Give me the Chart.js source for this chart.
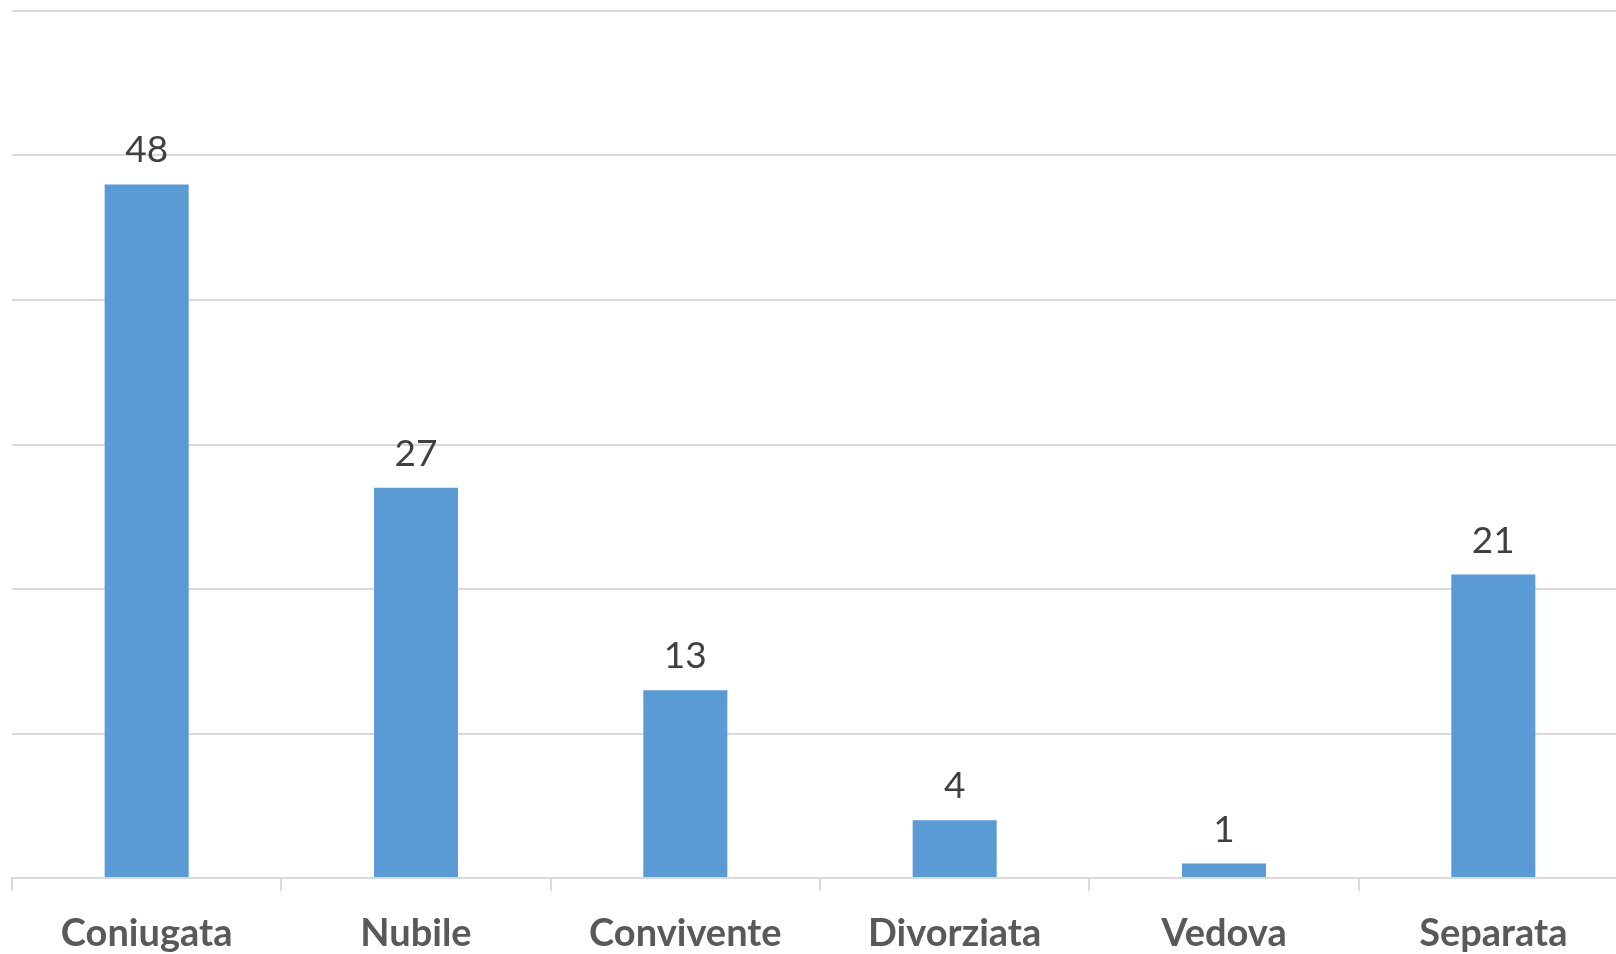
<!DOCTYPE html>
<html>
<head>
<meta charset="utf-8">
<script src="https://cdn.jsdelivr.net/npm/chart.js@4.4.1/dist/chart.umd.min.js"></script>
<style>
  html, body { margin: 0; padding: 0; background: #ffffff; overflow: hidden; width: 1616px; height: 954px; }
  #wrap { position: absolute; left: 0; top: 0; width: 1640px; height: 954px; }
</style>
</head>
<body>
<div id="wrap"><canvas id="c"></canvas></div>
<script>
const categories = ["Coniugata", "Nubile", "Convivente", "Divorziata", "Vedova", "Separata"];
const values = [48, 27, 13, 4, 1, 21];
const yMin = 0;
const yMax = 60;
const yStep = 10;

const valueLabels = {
  id: 'valueLabels',
  afterDatasetsDraw(chart) {
    const ctx = chart.ctx;
    const meta = chart.getDatasetMeta(0);
    ctx.save();
    ctx.font = '400 37px Lato, "Open Sans", sans-serif';
    ctx.fillStyle = '#404040';
    ctx.textAlign = 'center';
    ctx.textBaseline = 'alphabetic';
    meta.data.forEach((bar, i) => {
      ctx.fillText(String(chart.data.datasets[0].data[i]), bar.x, bar.y - 22);
    });
    ctx.restore();
  }
};

new Chart(document.getElementById('c'), {
  type: 'bar',
  data: {
    labels: categories,
    datasets: [{
      data: values,
      backgroundColor: '#5B9BD5',
      borderWidth: 0,
      categoryPercentage: 1,
      barPercentage: 0.312
    }]
  },
  options: {
    responsive: true,
    maintainAspectRatio: false,
    animation: false,
    events: [],
    layout: { padding: { left: 12, top: 11, right: 12, bottom: 0 } },
    plugins: { legend: { display: false }, tooltip: { enabled: false } },
    scales: {
      x: {
        offset: true,
        grid: { drawOnChartArea: false, drawTicks: true, tickLength: 13, color: '#d9d9d9', lineWidth: 2, offset: true },
        border: { display: true, color: '#d9d9d9', width: 2 },
        ticks: {
          color: '#595959',
          font: { family: 'Lato, "Open Sans", sans-serif', size: 38, weight: 'bold' },
          padding: 20,
          maxRotation: 0,
          autoSkip: false
        },
        afterFit(scale) { scale.height = 76; }
      },
      y: {
        min: yMin,
        max: yMax,
        ticks: { display: false, stepSize: yStep },
        grid: { color: '#d9d9d9', lineWidth: 2, drawTicks: false },
        border: { display: false },
        afterFit(scale) { scale.width = 0; }
      }
    }
  },
  plugins: [valueLabels]
});
</script>
</body>
</html>
